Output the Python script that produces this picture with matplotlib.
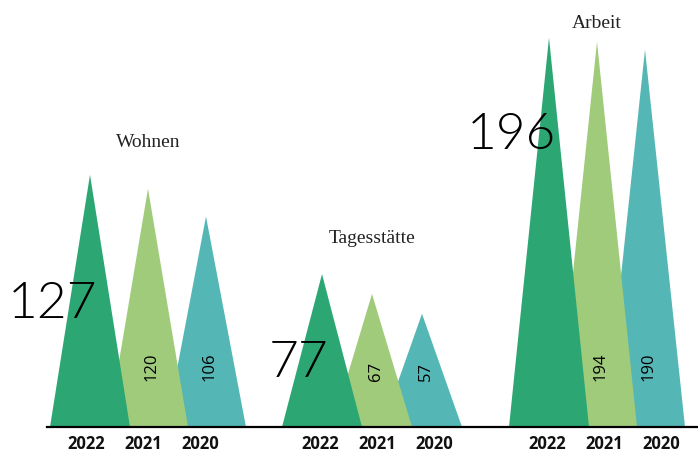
"""Triangle 'mountain' chart: counts per area for 2022, 2021, 2020."""

import matplotlib
matplotlib.use("Agg")
import matplotlib.pyplot as plt
from matplotlib.patches import Polygon

# data
categories = ["Wohnen", "Tagesstätte", "Arbeit"]
years = ["2022", "2021", "2020"]
values_2022 = [127, 77, 196]
values_2021 = [120, 67, 194]
values_2020 = [106, 57, 190]

# layout (x in pixel-like units, y in data units)
COLORS = ["#2ca774", "#a0cb7b", "#55b7b5"]
GROUP_START = [90, 322, 549]      # x of the 2022 peak per group
GROUP_STEP = [58, 50, 48]         # distance between peaks within a group
LABEL_START = [86, 320, 547]
LABEL_STEP = 57
HALF_WIDTH = 40
Y_TOP = 215
TITLE_Y = [143, 95, 203]
BIG_Y = [62, 32, 147]

fig = plt.figure(figsize=(6.98, 4.54), dpi=100)
ax = fig.add_axes([0, 27 / 454, 1, 1 - 27 / 454])
ax.set_xlim(0, 698)
ax.set_ylim(0, Y_TOP)

series = [values_2022, values_2021, values_2020]
tick_x, tick_labels = [], []
for g, cat in enumerate(categories):
    peaks = [GROUP_START[g] + i * GROUP_STEP[g] for i in range(3)]
    for i, vals in enumerate(series):
        v = vals[g]
        x = peaks[i]
        tri = Polygon([(x - HALF_WIDTH, 0), (x, v), (x + HALF_WIDTH, 0)],
                      closed=True, facecolor=COLORS[i], edgecolor="none",
                      zorder=10 - i)
        ax.add_patch(tri)
        if i > 0:
            ax.text(x + 4, 23, str(v), rotation=90, ha="center", va="bottom",
                    fontsize=12, family="Open Sans", color="black", zorder=20)
        tick_x.append(LABEL_START[g] + i * LABEL_STEP)
        tick_labels.append(years[i])
    # big number for 2022
    ax.text(peaks[0] + 7, BIG_Y[g], str(values_2022[g]), ha="right", va="center",
            fontsize=37, family="Lato", fontweight=300, color="black", zorder=20)
    # category title
    ax.text(peaks[1], TITLE_Y[g], cat, ha="center", va="center",
            fontsize=14, family="Liberation Serif", color="#222222")

ax.axhline(0, xmin=47 / 698, xmax=1, color="black", lw=1.6, clip_on=False, zorder=30)
ax.set_xticks(tick_x)
ax.set_xticklabels(tick_labels, fontsize=12, fontweight="bold", family="Open Sans",
                   color="#111111")
ax.tick_params(axis="x", length=0, pad=6)
ax.set_yticks([])
for s in ax.spines.values():
    s.set_visible(False)

fig.savefig("out.png", dpi=100)
